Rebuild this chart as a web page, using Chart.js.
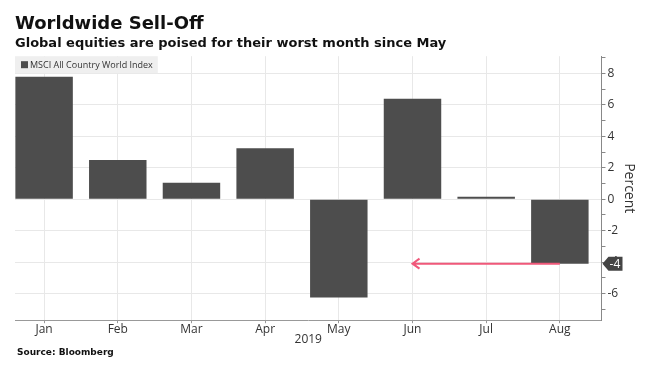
<!DOCTYPE html>
<html>
<head>
<meta charset="utf-8">
<script src="https://cdn.jsdelivr.net/npm/chart.js@4"></script>
<style>
  body { margin: 0; background: #fff; }
  #wrap { position: relative; width: 655px; height: 372px; }
  #source { position: absolute; left: 17px; top: 347px; font: bold 9px "DejaVu Sans", sans-serif; color: #111; }
</style>
</head>
<body>
<div id="wrap">
  <canvas id="barChart"></canvas>
  <div id="source">Source: Bloomberg</div>
</div>
<script>
// chart data
const months = ['Jan', 'Feb', 'Mar', 'Apr', 'May', 'Jun', 'Jul', 'Aug'];
const msciValues = [7.8, 2.5, 1.05, 3.25, -6.25, 6.4, 0.15, -4.1];
const seriesLabel = 'MSCI All Country World Index';
const yearLabel = '2019';
const arrowFrom = 'Aug';
const arrowTo = 'Jun';

// pink arrow from the last bar back to the month with the same level
const arrowPlugin = {
  id: 'arrow',
  afterDatasetsDraw(chart) {
    const xs = chart.scales.x, ys = chart.scales.y;
    const ctx = chart.ctx;
    const i1 = months.indexOf(arrowFrom), i0 = months.indexOf(arrowTo);
    const y = ys.getPixelForValue(msciValues[i1]);
    const x1 = xs.getPixelForValue(i1), x0 = xs.getPixelForValue(i0);
    ctx.save();
    ctx.strokeStyle = '#f0587a';
    ctx.lineWidth = 2;
    ctx.beginPath();
    ctx.moveTo(x1, y);
    ctx.lineTo(x0, y);
    ctx.moveTo(x0 + 7, y - 5);
    ctx.lineTo(x0, y);
    ctx.lineTo(x0 + 7, y + 5);
    ctx.stroke();
    ctx.restore();
  }
};

// legend box inside the plot and the last value tag on the axis
const extrasPlugin = {
  id: 'extras',
  afterDraw(chart) {
    const ctx = chart.ctx;
    const area = chart.chartArea;
    const ys = chart.scales.y;
    ctx.save();
    // legend
    ctx.font = '9px "Open Sans", sans-serif';
    const w = ctx.measureText(seriesLabel).width;
    ctx.fillStyle = '#efefef';
    ctx.fillRect(area.left, area.top, w + 20, 17);
    ctx.fillStyle = '#4d4d4d';
    ctx.fillRect(area.left + 6, area.top + 5, 7, 7);
    ctx.fillStyle = '#333';
    ctx.textBaseline = 'middle';
    ctx.fillText(seriesLabel, area.left + 15, area.top + 9);
    // value tag
    const last = msciValues[msciValues.length - 1];
    const y = ys.getPixelForValue(last);
    const x = area.right + 1;
    ctx.fillStyle = '#444';
    ctx.beginPath();
    ctx.moveTo(x, y);
    ctx.lineTo(x + 6, y - 7);
    ctx.lineTo(x + 20, y - 7);
    ctx.lineTo(x + 20, y + 7);
    ctx.lineTo(x + 6, y + 7);
    ctx.closePath();
    ctx.fill();
    ctx.fillStyle = '#fff';
    ctx.font = '12px "Open Sans", sans-serif';
    ctx.textAlign = 'center';
    ctx.fillText(Math.round(last).toString(), x + 12.5, y + 0.5);
    ctx.restore();
  }
};

function createChart() {
  Chart.defaults.font.family = '"Open Sans", sans-serif';
  Chart.defaults.color = '#333';
  const ctx = document.getElementById('barChart');
  new Chart(ctx, {
    type: 'bar',
    data: {
      datasets: [{
        label: seriesLabel,
        data: msciValues.map((v, i) => ({ x: i, y: v })),
        backgroundColor: '#4d4d4d',
        barPercentage: 0.78,
        categoryPercentage: 1
      }]
    },
    options: {
      responsive: true,
      maintainAspectRatio: false,
      animation: false,
      layout: { padding: { left: 15, right: 12, top: 14, bottom: 25 } },
      plugins: {
        legend: { display: false },
        tooltip: { enabled: false },
        title: {
          display: true,
          text: 'Worldwide Sell-Off',
          align: 'start',
          color: '#111',
          font: { family: '"DejaVu Sans", sans-serif', size: 18, weight: 'bold' },
          padding: { top: 0, bottom: 0 }
        },
        subtitle: {
          display: true,
          text: 'Global equities are poised for their worst month since May',
          align: 'start',
          color: '#111',
          font: { family: '"DejaVu Sans", sans-serif', size: 13, weight: 'bold' },
          padding: { top: 0, bottom: 5 }
        }
      },
      scales: {
        x: {
          type: 'linear',
          offset: false,
          min: -0.395,
          max: 7.565,
          grid: { offset: false, color: '#e8e8e8', tickColor: '#999', tickLength: 3 },
          border: { color: '#999' },
          ticks: {
            stepSize: 1,
            includeBounds: false,
            padding: -1,
            font: { size: 12 },
            callback: v => months[v] || ''
          },
          title: { display: true, text: yearLabel, font: { size: 12 }, padding: { top: -3, bottom: 0 }, color: '#333' }
        },
        y: {
          position: 'right',
          min: -7.7,
          max: 9.1,
          grid: {
            color: c => (c.tick && c.tick.value % 2 === 0) ? '#e8e8e8' : 'rgba(0,0,0,0)',
            tickColor: '#888',
            tickLength: 4
          },
          border: { color: '#888' },
          ticks: {
            stepSize: 1,
            includeBounds: false,
            autoSkip: false,
            padding: 2,
            font: { size: 12 },
            callback: v => (v % 2 === 0) ? v : ''
          },
          title: { display: true, text: 'Percent', font: { size: 14 }, padding: { top: 6, bottom: 0 }, color: '#333' }
        }
      }
    },
    plugins: [arrowPlugin, extrasPlugin]
  });
}

if (typeof Chart === 'undefined') {
  window.addEventListener('load', createChart);
} else {
  createChart();
}
</script>
</body>
</html>
